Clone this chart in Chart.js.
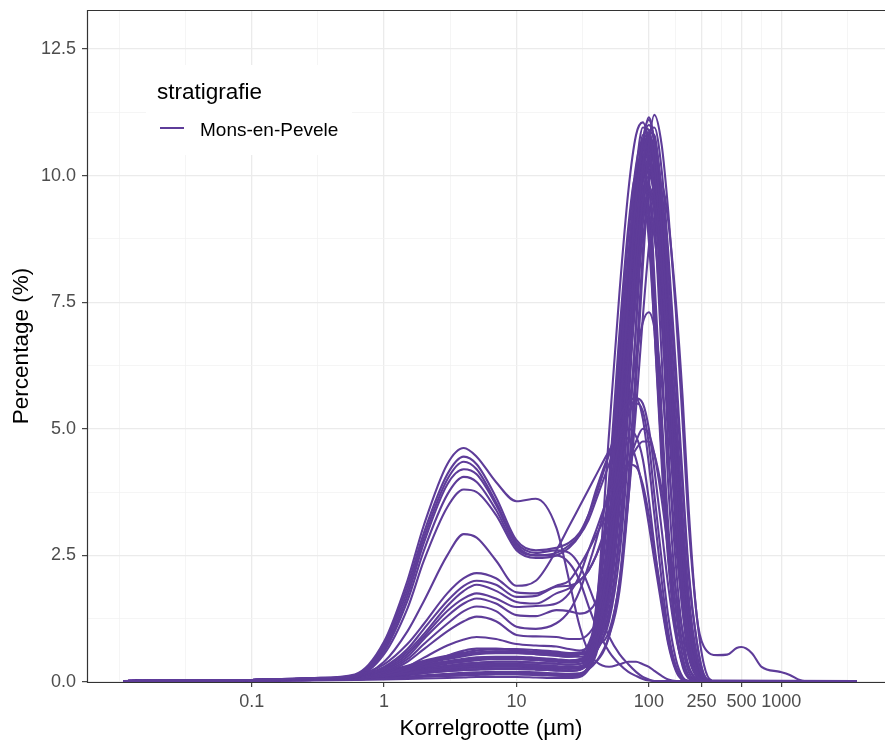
<!DOCTYPE html>
<html>
<head>
<meta charset="utf-8">
<title>Korrelgrootteverdeling</title>
<script src="https://cdn.jsdelivr.net/npm/chart.js@4.4.1/dist/chart.umd.min.js"></script>
<style>
html, body { margin: 0; padding: 0; overflow: hidden; background: #ffffff; }
#wrap { position: relative; width: 895px; height: 742px; }
</style>
</head>
<body>
<div id="wrap"><canvas id="chart"></canvas></div>
<script>
// meetklassen korrelgrootte (µm)
const xs = [0.0107, 0.1, 0.3, 0.6, 1, 1.5, 2, 3, 4, 5, 7, 10, 14, 20, 25, 30, 35, 40, 50, 60, 70, 80, 90, 100, 110, 125, 140, 160, 180, 200, 230, 260, 300, 3700];

// siltige monsters
const t1 = [0.02, 0.04, 0.08, 0.15, 0.8, 2.0, 3.1, 4.3, 4.62, 4.45, 3.95, 3.57, 3.62, 3.05, 2.0, 1.1, 0.6, 0.4, 0.3, 0.35, 0.4, 0.4, 0.35, 0.3, 0.22, 0.12, 0.05, 0.02, 0.02, 0.02, 0.02, 0.02, 0.02, 0.02];
const t2 = [0.02, 0.04, 0.08, 0.13, 0.75, 1.9, 2.95, 4.1, 4.45, 4.3, 3.65, 2.8, 2.6, 2.65, 2.75, 2.95, 3.3, 3.7, 4.5, 5.2, 5.55, 5.6, 5.2, 4.3, 3.3, 2.0, 1.0, 0.3, 0.06, 0.02, 0.02, 0.02, 0.02, 0.02];
const t3 = [0.02, 0.04, 0.07, 0.12, 0.7, 1.8, 2.85, 4.0, 4.35, 4.2, 3.55, 2.75, 2.55, 2.6, 2.55, 2.3, 1.9, 1.5, 0.9, 0.55, 0.35, 0.2, 0.1, 0.05, 0.02, 0.02, 0.02, 0.02, 0.02, 0.02, 0.02, 0.02, 0.02, 0.02];
const t4 = [0.02, 0.04, 0.07, 0.12, 0.65, 1.7, 2.75, 3.9, 4.2, 4.1, 3.5, 2.7, 2.5, 2.55, 2.7, 2.9, 3.2, 3.6, 4.3, 4.9, 5.3, 5.5, 5.35, 4.7, 3.7, 2.4, 1.3, 0.45, 0.1, 0.02, 0.02, 0.02, 0.02, 0.02];
const t5 = [0.02, 0.04, 0.07, 0.11, 0.6, 1.6, 2.6, 3.7, 4.05, 3.95, 3.4, 2.65, 2.5, 2.5, 2.35, 2.0, 1.5, 1.1, 0.6, 0.35, 0.2, 0.12, 0.06, 0.03, 0.02, 0.02, 0.02, 0.02, 0.02, 0.02, 0.02, 0.02, 0.02, 0.02];
const t6 = [0.02, 0.04, 0.06, 0.1, 0.55, 1.45, 2.4, 3.45, 3.8, 3.75, 3.3, 2.6, 2.45, 2.5, 2.65, 2.9, 3.3, 3.8, 4.5, 4.9, 5.0, 4.85, 4.4, 3.6, 2.7, 1.6, 0.8, 0.25, 0.05, 0.02, 0.02, 0.02, 0.02, 0.02];
const g1 = [0.02, 0.04, 0.07, 0.1, 0.4, 1.0, 1.6, 2.5, 2.92, 2.85, 2.4, 1.9, 2.0, 2.6, 3.08, 3.47, 3.8, 4.09, 4.56, 4.85, 4.8, 4.4, 3.8, 3.1, 2.4, 1.5, 0.75, 0.22, 0.04, 0.02, 0.02, 0.02, 0.02, 0.02];

// lemige monsters
const l1 = [0.02, 0.04, 0.07, 0.13, 0.35, 0.75, 1.15, 1.75, 2.05, 2.15, 2.05, 1.77, 1.75, 1.9, 2.0, 2.3, 2.6, 2.9, 3.4, 3.9, 4.3, 4.6, 4.75, 4.75, 4.5, 3.8, 2.9, 1.8, 1.0, 0.5, 0.12, 0.03, 0.02, 0.02];
const l2 = [0.02, 0.04, 0.07, 0.12, 0.3, 0.65, 1.05, 1.6, 1.9, 2.0, 1.92, 1.68, 1.7, 1.88, 1.9, 2.0, 2.2, 2.5, 3.3, 4.3, 5.4, 6.4, 7.1, 7.3, 7.0, 5.9, 4.4, 2.7, 1.4, 0.6, 0.15, 0.03, 0.02, 0.02];
const l3 = [0.02, 0.04, 0.06, 0.11, 0.28, 0.6, 0.95, 1.5, 1.8, 1.92, 1.8, 1.58, 1.55, 1.75, 1.85, 2.0, 2.2, 2.5, 3.1, 3.7, 4.3, 4.75, 5.0, 4.9, 4.5, 3.6, 2.6, 1.5, 0.7, 0.3, 0.06, 0.02, 0.02, 0.02];
const l4 = [0.02, 0.04, 0.06, 0.1, 0.25, 0.55, 0.9, 1.4, 1.65, 1.75, 1.65, 1.48, 1.5, 1.55, 1.75, 2.1, 2.6, 3.0, 3.7, 4.1, 4.3, 4.25, 3.9, 3.3, 2.6, 1.7, 0.9, 0.3, 0.08, 0.02, 0.02, 0.02, 0.02, 0.02];
const l5 = [0.02, 0.04, 0.06, 0.1, 0.23, 0.5, 0.85, 1.3, 1.55, 1.65, 1.55, 1.32, 1.3, 1.42, 1.4, 1.35, 1.4, 1.6, 2.6, 4.1, 5.9, 7.6, 8.8, 9.2, 8.8, 7.4, 5.5, 3.3, 1.7, 0.7, 0.15, 0.03, 0.02, 0.02];
const l6 = [0.02, 0.04, 0.05, 0.09, 0.2, 0.45, 0.75, 1.15, 1.4, 1.49, 1.4, 1.09, 1.05, 1.16, 1.4, 1.8, 2.3, 2.8, 3.8, 4.7, 5.3, 5.6, 5.5, 5.0, 4.2, 3.0, 1.9, 0.9, 0.35, 0.1, 0.02, 0.02, 0.02, 0.02];
const l7 = [0.02, 0.04, 0.05, 0.08, 0.18, 0.4, 0.65, 1.0, 1.2, 1.29, 1.2, 0.93, 0.9, 0.89, 0.85, 0.85, 0.95, 1.2, 2.4, 4.3, 6.4, 8.2, 9.5, 10.0, 9.6, 8.2, 6.2, 3.8, 2.0, 0.9, 0.2, 0.03, 0.02, 0.02];
const l8 = [0.02, 0.03, 0.05, 0.07, 0.15, 0.3, 0.48, 0.72, 0.84, 0.89, 0.85, 0.75, 0.72, 0.7, 0.65, 0.62, 0.7, 0.95, 2.0, 3.8, 5.9, 7.8, 9.1, 9.6, 9.3, 7.9, 6.0, 3.7, 2.0, 0.9, 0.22, 0.04, 0.02, 0.02];
const l9 = [0.02, 0.03, 0.05, 0.06, 0.12, 0.22, 0.35, 0.52, 0.62, 0.66, 0.66, 0.62, 0.6, 0.58, 0.55, 0.55, 0.65, 0.9, 2.0, 3.9, 6.0, 7.9, 9.2, 9.7, 9.4, 8.0, 6.1, 3.8, 2.1, 0.95, 0.25, 0.04, 0.02, 0.02];

// zandige monsters
const s1 = [0.02, 0.03, 0.05, 0.07, 0.12, 0.17, 0.22, 0.27, 0.3, 0.32, 0.34, 0.34, 0.32, 0.3, 0.28, 0.3, 0.4, 0.6, 1.3, 2.8, 4.8, 7.0, 9.1, 10.6, 11.2, 10.6, 9.3, 7.3, 5.1, 3.1, 1.3, 0.35, 0.03, 0.02];
const s2 = [0.02, 0.04, 0.06, 0.09, 0.16, 0.24, 0.31, 0.38, 0.42, 0.45, 0.47, 0.47, 0.45, 0.42, 0.4, 0.42, 0.6, 1.4, 4.9, 7.7, 9.7, 10.8, 11.05, 10.6, 9.6, 7.6, 5.4, 3.1, 1.6, 0.7, 0.15, 0.02, 0.02, 0.02];
const s3 = [0.02, 0.03, 0.04, 0.05, 0.07, 0.09, 0.11, 0.13, 0.14, 0.15, 0.16, 0.16, 0.15, 0.13, 0.12, 0.13, 0.3, 0.7, 2.6, 5.2, 7.6, 9.5, 10.7, 11.1, 10.6, 8.9, 6.7, 4.2, 2.3, 1.0, 0.25, 0.03, 0.02, 0.02];
const s4 = [0.02, 0.04, 0.07, 0.1, 0.19, 0.29, 0.38, 0.47, 0.53, 0.57, 0.6, 0.6, 0.58, 0.55, 0.52, 0.55, 0.65, 1.1, 3.2, 6.0, 8.4, 10.1, 10.95, 10.9, 10.2, 8.3, 6.0, 3.6, 1.9, 0.8, 0.2, 0.02, 0.02, 0.02];
const s5 = [0.02, 0.03, 0.05, 0.07, 0.11, 0.16, 0.21, 0.26, 0.29, 0.31, 0.32, 0.32, 0.3, 0.28, 0.27, 0.29, 0.4, 0.7, 2.0, 4.2, 6.6, 8.7, 10.2, 10.85, 10.8, 9.6, 7.8, 5.4, 3.3, 1.7, 0.5, 0.08, 0.02, 0.02];
const s6 = [0.02, 0.04, 0.06, 0.08, 0.15, 0.22, 0.29, 0.36, 0.4, 0.43, 0.45, 0.45, 0.43, 0.4, 0.38, 0.4, 0.5, 0.85, 2.7, 5.3, 7.7, 9.5, 10.5, 10.8, 10.4, 8.9, 6.9, 4.5, 2.6, 1.2, 0.3, 0.04, 0.02, 0.02];
const s7 = [0.02, 0.04, 0.07, 0.1, 0.2, 0.3, 0.4, 0.5, 0.55, 0.58, 0.6, 0.58, 0.55, 0.52, 0.5, 0.55, 0.75, 1.3, 3.8, 6.6, 8.8, 10.2, 10.7, 10.4, 9.5, 7.6, 5.5, 3.3, 1.7, 0.7, 0.15, 0.02, 0.02, 0.02];
const s8 = [0.02, 0.03, 0.04, 0.05, 0.08, 0.1, 0.12, 0.14, 0.16, 0.17, 0.18, 0.18, 0.17, 0.15, 0.14, 0.15, 0.3, 0.7, 2.5, 5.0, 7.4, 9.2, 10.3, 10.6, 10.2, 8.7, 6.8, 4.4, 2.5, 1.2, 0.3, 0.04, 0.02, 0.02];
const s9 = [0.02, 0.03, 0.05, 0.07, 0.13, 0.19, 0.24, 0.3, 0.33, 0.35, 0.36, 0.36, 0.34, 0.31, 0.29, 0.3, 0.35, 0.6, 1.6, 3.5, 5.8, 7.9, 9.5, 10.3, 10.5, 9.7, 8.2, 5.9, 3.8, 2.1, 0.8, 0.15, 0.02, 0.02];
const s10 = [0.02, 0.04, 0.06, 0.09, 0.17, 0.26, 0.34, 0.41, 0.46, 0.49, 0.5, 0.5, 0.48, 0.45, 0.43, 0.45, 0.55, 1.0, 3.0, 5.8, 8.1, 9.7, 10.4, 10.3, 9.6, 7.9, 5.8, 3.5, 1.8, 0.8, 0.2, 0.02, 0.02, 0.02];
const s11 = [0.02, 0.03, 0.05, 0.06, 0.1, 0.15, 0.19, 0.24, 0.27, 0.29, 0.3, 0.3, 0.29, 0.27, 0.26, 0.28, 0.4, 0.85, 2.6, 5.0, 7.3, 9.0, 10.0, 10.3, 9.9, 8.5, 6.6, 4.2, 2.4, 1.1, 0.28, 0.04, 0.02, 0.02];
const s12 = [0.02, 0.04, 0.07, 0.1, 0.18, 0.28, 0.37, 0.45, 0.51, 0.55, 0.57, 0.57, 0.55, 0.52, 0.5, 0.5, 0.55, 0.8, 2.0, 4.1, 6.4, 8.3, 9.6, 10.1, 10.0, 8.9, 7.2, 4.9, 3.0, 1.5, 0.45, 0.07, 0.02, 0.02];
const s13 = [0.02, 0.04, 0.06, 0.09, 0.16, 0.25, 0.33, 0.4, 0.44, 0.47, 0.49, 0.49, 0.47, 0.44, 0.42, 0.45, 0.6, 1.2, 3.6, 6.3, 8.4, 9.6, 10.0, 9.7, 8.9, 7.1, 5.2, 3.1, 1.6, 0.7, 0.15, 0.02, 0.02, 0.02];
const s14 = [0.02, 0.03, 0.04, 0.06, 0.08, 0.11, 0.13, 0.16, 0.18, 0.19, 0.2, 0.2, 0.19, 0.17, 0.16, 0.17, 0.3, 0.7, 2.4, 4.7, 6.9, 8.6, 9.5, 9.8, 9.4, 8.0, 6.2, 3.9, 2.2, 1.0, 0.25, 0.03, 0.02, 0.02];
const s15 = [0.02, 0.03, 0.05, 0.07, 0.12, 0.18, 0.23, 0.29, 0.32, 0.34, 0.35, 0.35, 0.33, 0.31, 0.3, 0.31, 0.38, 0.7, 2.0, 4.0, 6.1, 7.9, 9.1, 9.6, 9.5, 8.5, 6.9, 4.7, 2.9, 1.5, 0.45, 0.07, 0.02, 0.02];
const s16 = [0.02, 0.04, 0.07, 0.11, 0.21, 0.32, 0.42, 0.52, 0.58, 0.62, 0.65, 0.65, 0.63, 0.6, 0.57, 0.58, 0.6, 0.9, 2.6, 5.1, 7.5, 9.3, 10.6, 11.0, 10.7, 9.2, 7.1, 4.6, 2.6, 1.2, 0.3, 0.04, 0.02, 0.02];
const s17 = [0.02, 0.03, 0.04, 0.05, 0.07, 0.09, 0.11, 0.12, 0.13, 0.14, 0.15, 0.15, 0.14, 0.13, 0.12, 0.14, 0.25, 0.55, 1.8, 3.8, 6.1, 8.2, 9.9, 10.8, 10.95, 10.1, 8.5, 6.2, 4.0, 2.2, 0.8, 0.15, 0.02, 0.02];
const s18 = [0.02, 0.04, 0.06, 0.08, 0.15, 0.23, 0.3, 0.37, 0.41, 0.44, 0.46, 0.46, 0.44, 0.42, 0.4, 0.42, 0.5, 0.9, 2.8, 5.5, 7.9, 9.6, 10.5, 10.7, 10.2, 8.6, 6.5, 4.1, 2.2, 1.0, 0.25, 0.03, 0.02, 0.02];
const s19 = [0.02, 0.02, 0.03, 0.04, 0.05, 0.06, 0.07, 0.08, 0.09, 0.1, 0.1, 0.1, 0.09, 0.08, 0.08, 0.1, 0.25, 0.6, 2.2, 4.6, 7.0, 8.9, 9.9, 10.2, 9.8, 8.3, 6.4, 4.0, 2.2, 1.0, 0.25, 0.03, 0.02, 0.02];
const s20 = [0.02, 0.03, 0.05, 0.06, 0.1, 0.14, 0.18, 0.22, 0.24, 0.25, 0.26, 0.26, 0.25, 0.23, 0.22, 0.24, 0.5, 1.1, 2.5, 5.0, 7.8, 10.0, 10.4, 9.0, 7.0, 4.3, 2.4, 1.0, 0.35, 0.1, 0.02, 0.02, 0.02, 0.02];
const s21 = [0.02, 0.03, 0.05, 0.08, 0.14, 0.2, 0.26, 0.32, 0.36, 0.38, 0.4, 0.4, 0.38, 0.36, 0.34, 0.36, 0.45, 0.9, 2.0, 4.4, 7.0, 9.4, 10.8, 10.0, 8.0, 5.3, 3.1, 1.4, 0.5, 0.12, 0.02, 0.02, 0.02, 0.02];
const s22 = [0.02, 0.03, 0.05, 0.07, 0.12, 0.17, 0.22, 0.27, 0.3, 0.32, 0.34, 0.34, 0.32, 0.3, 0.28, 0.3, 0.4, 0.8, 1.8, 3.9, 6.3, 8.9, 10.7, 10.8, 9.3, 6.4, 3.9, 1.8, 0.7, 0.2, 0.03, 0.02, 0.02, 0.02];
const s23 = [0.02, 0.04, 0.06, 0.09, 0.16, 0.24, 0.31, 0.38, 0.42, 0.45, 0.47, 0.47, 0.45, 0.42, 0.4, 0.42, 0.4, 0.7, 1.4, 3.0, 5.4, 8.0, 10.0, 10.9, 10.0, 7.4, 4.7, 2.3, 0.95, 0.3, 0.05, 0.02, 0.02, 0.02];
const s24 = [0.02, 0.03, 0.04, 0.05, 0.07, 0.09, 0.11, 0.13, 0.14, 0.15, 0.16, 0.16, 0.15, 0.13, 0.12, 0.13, 0.25, 0.4, 0.9, 1.8, 3.6, 5.9, 8.2, 9.9, 10.6, 9.6, 7.4, 4.6, 2.4, 1.0, 0.25, 0.03, 0.02, 0.02];
const s25 = [0.02, 0.04, 0.07, 0.1, 0.19, 0.29, 0.38, 0.47, 0.53, 0.57, 0.6, 0.6, 0.58, 0.55, 0.52, 0.55, 0.55, 0.7, 1.0, 2.0, 4.0, 6.3, 8.5, 9.9, 10.1, 8.7, 6.3, 3.6, 1.7, 0.6, 0.1, 0.02, 0.02, 0.02];
const s26 = [0.02, 0.03, 0.05, 0.06, 0.1, 0.14, 0.18, 0.22, 0.24, 0.25, 0.26, 0.26, 0.25, 0.23, 0.22, 0.24, 0.4, 0.8, 2.0, 4.2, 6.6, 8.7, 9.8, 9.3, 7.6, 4.9, 2.8, 1.1, 0.35, 0.08, 0.02, 0.02, 0.02, 0.02];
const s27 = [0.02, 0.03, 0.05, 0.08, 0.14, 0.2, 0.26, 0.32, 0.36, 0.38, 0.4, 0.4, 0.38, 0.36, 0.34, 0.36, 0.5, 1.1, 2.8, 5.6, 8.1, 9.9, 10.4, 9.4, 7.4, 4.6, 2.6, 1.0, 0.3, 0.07, 0.02, 0.02, 0.02, 0.02];
const s28 = [0.02, 0.03, 0.05, 0.07, 0.12, 0.17, 0.22, 0.27, 0.3, 0.32, 0.34, 0.34, 0.32, 0.3, 0.28, 0.3, 0.35, 0.7, 1.6, 3.4, 5.9, 8.5, 10.5, 11.15, 10.6, 8.4, 5.8, 3.1, 1.4, 0.5, 0.1, 0.02, 0.02, 0.02];
const s29 = [0.02, 0.04, 0.06, 0.09, 0.16, 0.24, 0.31, 0.38, 0.42, 0.45, 0.47, 0.47, 0.45, 0.42, 0.4, 0.42, 0.4, 0.6, 1.2, 2.5, 4.6, 7.1, 9.3, 10.5, 10.7, 9.3, 7.0, 4.2, 2.1, 0.9, 0.2, 0.03, 0.02, 0.02];
const s30 = [0.02, 0.04, 0.07, 0.1, 0.19, 0.29, 0.38, 0.47, 0.53, 0.57, 0.6, 0.6, 0.58, 0.55, 0.52, 0.55, 0.6, 1.5, 4.0, 6.9, 9.0, 10.0, 9.8, 8.7, 7.0, 4.5, 2.5, 1.0, 0.35, 0.1, 0.02, 0.02, 0.02, 0.02];
const s31 = [0.02, 0.03, 0.05, 0.06, 0.1, 0.14, 0.18, 0.22, 0.24, 0.25, 0.26, 0.26, 0.25, 0.23, 0.22, 0.24, 0.4, 0.9, 2.6, 4.9, 7.1, 8.8, 9.9, 10.3, 10.0, 8.9, 7.2, 4.9, 3.0, 1.6, 0.55, 0.1, 0.02, 0.02];

// monster met grove staart (eigen meetklassen)
const grofX = [0.0107, 0.1, 0.3, 0.6, 1, 2, 4, 7, 10, 20, 30, 40, 50, 60, 70, 80, 90, 100, 110, 125, 140, 160, 180, 200, 230, 260, 330, 390, 460, 500, 600, 710, 980, 1160, 1380, 1500, 3700];
const grofY = [0.02, 0.03, 0.06, 0.08, 0.12, 0.2, 0.28, 0.3, 0.3, 0.26, 0.28, 0.4, 0.9, 2.0, 3.6, 5.4, 7.2, 8.6, 9.5, 9.8, 9.1, 7.5, 5.6, 3.4, 1.3, 0.7, 0.53, 0.54, 0.67, 0.69, 0.57, 0.3, 0.2, 0.14, 0.04, 0.02, 0.02];

const samples = [t1, t2, t3, t4, t5, t6, g1, l1, l2, l3, l4, l5, l6, l7, l8, l9,
  s1, s2, s3, s4, s5, s6, s7, s8, s9, s10, s11, s12, s13, s14, s15, s16,
  s17, s18, s19, s20, s21, s22, s23, s24, s25, s26, s27, s28, s29, s30, s31];

// assen
const xMajor = [0.1, 1, 10, 100, 250, 500, 1000];
const xLabels = ['0.1', '1', '10', '100', '250', '500', '1000'];
const xMinor = [0.01, 0.0316, 0.316, 3.16, 31.6, 158, 354, 707, 3162];
const yMajor = [0, 2.5, 5, 7.5, 10, 12.5];
const yMinor = [1.25, 3.75, 6.25, 8.75, 11.25];

const purple = '#5E3C99';
const fontFamily = '"Liberation Sans", Arial, sans-serif';

function makeDataset(xv, yv) {
    return {
        label: 'Mons-en-Pevele',
        data: xv.map((x, i) => ({ x: x, y: yv[i] })),
        borderColor: purple,
        borderWidth: 2.1,
        pointRadius: 0,
        fill: false,
        cubicInterpolationMode: 'monotone'
    };
}

const datasets = samples.map(ys => makeDataset(xs, ys));
datasets.push(makeDataset(grofX, grofY));

function isMajor(list, ctx) {
    return ctx.tick && list.indexOf(ctx.tick.value) >= 0;
}

// legende en paneelrand zoals in ggplot
const panelPlugin = {
    id: 'panel',
    beforeDatasetsDraw(chart) {
        const ctx = chart.ctx;
        ctx.save();
        ctx.fillStyle = '#ffffff';
        ctx.fillRect(146, 65, 206, 90);
        ctx.fillStyle = '#000000';
        ctx.textBaseline = 'alphabetic';
        ctx.font = '22.5px ' + fontFamily;
        ctx.fillText('stratigrafie', 157, 99);
        ctx.strokeStyle = purple;
        ctx.lineWidth = 2;
        ctx.beginPath();
        ctx.moveTo(160, 128);
        ctx.lineTo(184, 128);
        ctx.stroke();
        ctx.font = '19px ' + fontFamily;
        ctx.fillText('Mons-en-Pevele', 200, 136);
        ctx.restore();
    },
    afterDatasetsDraw(chart) {
        const a = chart.chartArea;
        const ctx = chart.ctx;
        ctx.save();
        ctx.strokeStyle = '#333333';
        ctx.lineWidth = 1.2;
        ctx.beginPath();
        ctx.moveTo(a.right, a.top + 0.5);
        ctx.lineTo(a.left + 0.5, a.top + 0.5);
        ctx.lineTo(a.left + 0.5, a.bottom + 0.5);
        ctx.lineTo(a.right, a.bottom + 0.5);
        ctx.stroke();
        ctx.restore();
    }
};

new Chart(document.getElementById('chart').getContext('2d'), {
    type: 'line',
    data: { datasets: datasets },
    options: {
        responsive: true,
        maintainAspectRatio: false,
        animation: false,
        layout: { padding: { top: 10, left: 0, right: 0, bottom: 0 } },
        plugins: {
            legend: { display: false },
            tooltip: { enabled: false }
        },
        scales: {
            x: {
                type: 'logarithmic',
                min: 0.005702,
                max: 7228,
                afterBuildTicks: axis => {
                    axis.ticks = xMinor.concat(xMajor).sort((a, b) => a - b).map(v => ({ value: v }));
                },
                afterFit: scale => {
                    scale.height = 60;
                    scale.paddingLeft = 0;
                    scale.paddingRight = 0;
                },
                border: { display: false },
                grid: {
                    color: ctx => isMajor(xMajor, ctx) ? '#EBEBEB' : '#F2F2F2',
                    lineWidth: ctx => isMajor(xMajor, ctx) ? 1.3 : 0.8,
                    tickLength: 5,
                    tickWidth: 1.1,
                    tickColor: ctx => isMajor(xMajor, ctx) ? '#333333' : 'rgba(0,0,0,0)'
                },
                ticks: {
                    autoSkip: false,
                    maxRotation: 0,
                    padding: 6,
                    color: '#4D4D4D',
                    font: { family: fontFamily, size: 18, lineHeight: 1 },
                    callback: value => {
                        const i = xMajor.indexOf(value);
                        return i >= 0 ? xLabels[i] : '';
                    }
                },
                title: {
                    display: true,
                    text: 'Korrelgrootte (µm)',
                    color: '#000000',
                    font: { family: fontFamily, size: 22.5 },
                    padding: { top: 0, bottom: 0 }
                }
            },
            y: {
                min: 0,
                max: 13.27,
                afterBuildTicks: axis => {
                    axis.ticks = yMinor.concat(yMajor).sort((a, b) => a - b).map(v => ({ value: v }));
                },
                afterFit: scale => {
                    scale.width = 87;
                    scale.paddingTop = 0;
                    scale.paddingBottom = 0;
                },
                border: { display: false },
                grid: {
                    color: ctx => isMajor(yMajor, ctx) ? '#EBEBEB' : '#F2F2F2',
                    lineWidth: ctx => isMajor(yMajor, ctx) ? 1.3 : 0.8,
                    tickLength: 5,
                    tickWidth: 1.1,
                    tickColor: ctx => isMajor(yMajor, ctx) ? '#333333' : 'rgba(0,0,0,0)'
                },
                ticks: {
                    autoSkip: false,
                    padding: 6,
                    color: '#4D4D4D',
                    font: { family: fontFamily, size: 18, lineHeight: 1 },
                    callback: value => yMajor.indexOf(value) >= 0 ? value.toFixed(1) : ''
                },
                title: {
                    display: true,
                    text: 'Percentage (%)',
                    color: '#000000',
                    font: { family: fontFamily, size: 22.5 },
                    padding: { top: 8.5, bottom: 0 }
                }
            }
        }
    },
    plugins: [panelPlugin]
});
</script>
</body>
</html>
